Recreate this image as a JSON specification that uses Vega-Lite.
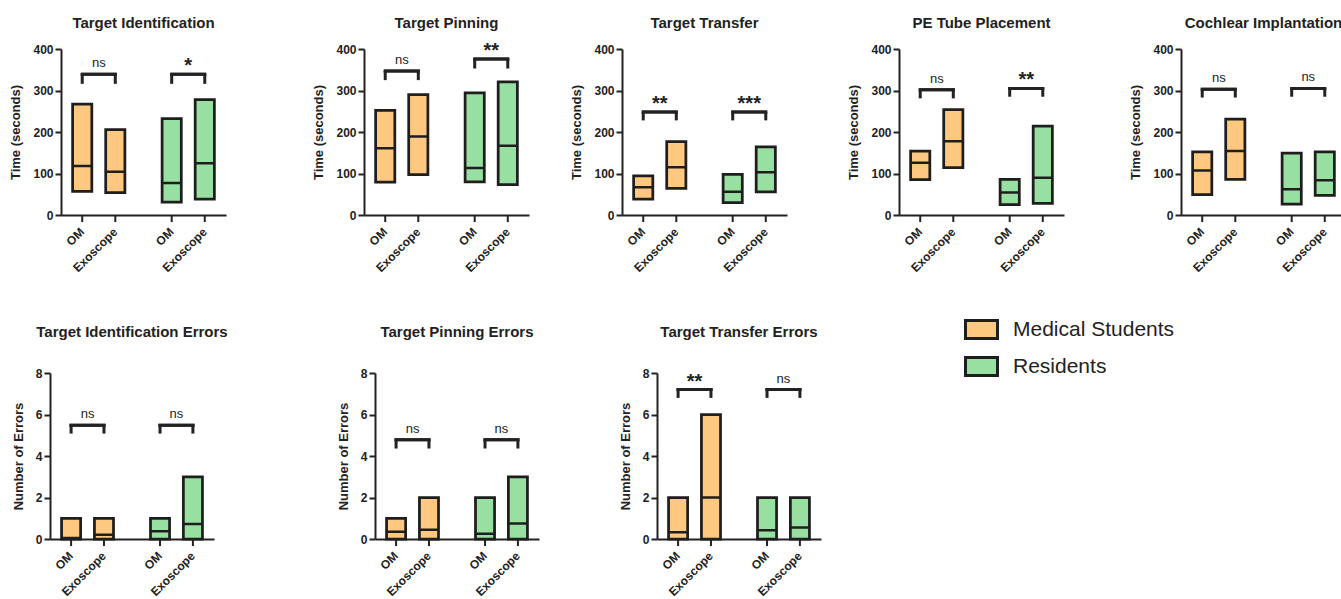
{
"$schema": "https://vega.github.io/schema/vega-lite/v6.json",
"padding": {"left": 5, "top": 15, "right": 0, "bottom": 0},
"config": {
 "view": {"stroke": null},
 "font": "Liberation Sans",
 "axis": {"domainColor": "#222", "domainWidth": 2, "tickColor": "#222", "tickWidth": 2, "tickSize": 6, "labelFont": "Liberation Sans", "labelFontWeight": "bold", "labelFontSize": 12, "labelColor": "#222", "titleFont": "Liberation Sans", "titleFontWeight": "bold", "titleFontSize": 13, "titleColor": "#222", "grid": false},
 "axisY": {"titlePadding": 10},
 "title": {"font": "Liberation Sans", "fontSize": 15, "fontWeight": "bold", "color": "#222", "anchor": "middle"},
 "legend": {"orient": "none", "legendX": 959, "legendY": 263, "padding": 0, "labelFont": "Liberation Sans", "labelFontSize": 21, "labelColor": "#222", "labelLimit": 400, "symbolType": "M-1,-0.5625H1V0.5625H-1Z", "symbolSize": 1024, "symbolStrokeColor": "#1e1e1e", "symbolStrokeWidth": 3, "symbolOpacity": 1, "rowPadding": 4, "labelOffset": 14}
},
"resolve": {"scale": {"xOffset": "independent", "x": "independent", "y": "independent"}},
"spacing": 50,
"vconcat": [
{"resolve": {"scale": {"xOffset": "independent", "x": "independent", "y": "independent"}}, "spacing": 3, "hconcat": [
 {"width": 1, "height": 1, "data": {"values": [{"a": 0}]}, "mark": {"type": "point", "opacity": 0, "size": 1}},
 {"resolve": {"scale": {"xOffset": "independent", "x": "independent", "y": "independent"}}, "spacing": 86, "hconcat": [
 {"width": 165, "height": 166, "title": {"text": "Target Identification", "offset": 12},
  "data": {"values": [
   {"group": "Medical Students", "condition": "OM", "min": 57, "median": 118, "max": 267},
   {"group": "Medical Students", "condition": "Exoscope", "min": 54, "median": 104, "max": 206},
   {"group": "Residents", "condition": "OM", "min": 31, "median": 77, "max": 232},
   {"group": "Residents", "condition": "Exoscope", "min": 38, "median": 125, "max": 278}]},
  "encoding": {"x": {"field": "group", "type": "nominal", "scale": {"domain": ["Medical Students", "Residents"], "paddingInner": 0.416, "paddingOuter": 0.13}, "axis": {"labels": false, "ticks": false, "title": null}}},
  "layer": [
   {"mark": {"type": "bar", "stroke": "#1e1e1e", "strokeWidth": 2.75}, "encoding": {"xOffset": {"field": "condition", "type": "nominal", "scale": {"domain": ["OM", "Exoscope"], "paddingInner": 0.42, "paddingOuter": 0}}, "y": {"field": "min", "type": "quantitative", "scale": {"domain": [0, 400], "nice": false}, "axis": {"values": [0, 100, 200, 300, 400], "title": "Time (seconds)"}}, "y2": {"field": "max"}, "color": {"field": "group", "type": "nominal", "scale": {"domain": ["Medical Students", "Residents"], "range": ["#FFC880", "#98E0A2"]}, "legend": {"title": null}}}},
   {"mark": {"type": "bar", "stroke": "#1e1e1e", "strokeWidth": 2.5, "fillOpacity": 0}, "encoding": {"xOffset": {"field": "condition", "type": "nominal"}, "y": {"field": "median", "type": "quantitative"}, "y2": {"field": "median"}}},
   {"mark": {"type": "rule", "stroke": "#222", "strokeWidth": 2}, "encoding": {"xOffset": {"field": "condition", "type": "nominal"}, "y": {"datum": 0}, "y2": {"datum": -17}}},
   {"mark": {"type": "text", "angle": 315, "align": "right", "baseline": "middle", "fontWeight": "bold", "fontSize": 12, "fill": "#222"}, "encoding": {"xOffset": {"field": "condition", "type": "nominal"}, "y": {"datum": -36}, "text": {"field": "condition"}}},
   {"data": {"values": [{"group": "Medical Students", "condition": "OM", "top": 339, "low": 316, "label": "ns"}, {"group": "Medical Students", "condition": "Exoscope", "top": 339, "low": 316, "label": "ns"}, {"group": "Residents", "condition": "OM", "top": 339, "low": 316, "label": "*"}, {"group": "Residents", "condition": "Exoscope", "top": 339, "low": 316, "label": "*"}]},
    "layer": [
     {"mark": {"type": "rule", "stroke": "#222", "strokeWidth": 3}, "encoding": {"xOffset": {"field": "condition", "type": "nominal"}, "y": {"field": "top", "type": "quantitative"}, "y2": {"field": "low"}}},
     {"mark": {"type": "tick", "thickness": 3, "size": 36, "color": "#222", "opacity": 1}, "encoding": {"y": {"field": "top", "type": "quantitative"}}},
     {"transform": [{"filter": "datum.condition === 'OM' && datum.label === 'ns'"}], "mark": {"type": "text", "dy": -11, "fontSize": 13, "fill": "#222"}, "encoding": {"y": {"field": "top", "type": "quantitative"}, "text": {"field": "label"}}},
     {"transform": [{"filter": "datum.condition === 'OM' && datum.label !== 'ns'"}], "mark": {"type": "text", "dy": -8, "fontSize": 20, "fontWeight": "bold", "fill": "#222"}, "encoding": {"y": {"field": "top", "type": "quantitative"}, "text": {"field": "label"}}}
    ]}
  ]},
 {"resolve": {"scale": {"xOffset": "independent", "x": "independent", "y": "independent"}}, "spacing": 41, "hconcat": [
  {"width": 165, "height": 166, "title": {"text": "Target Pinning", "offset": 10},
   "data": {"values": [
    {"group": "Medical Students", "condition": "OM", "min": 79, "median": 161, "max": 252},
    {"group": "Medical Students", "condition": "Exoscope", "min": 97, "median": 189, "max": 290},
    {"group": "Residents", "condition": "OM", "min": 80, "median": 113, "max": 294},
    {"group": "Residents", "condition": "Exoscope", "min": 73, "median": 167, "max": 321}]},
   "encoding": {"x": {"field": "group", "type": "nominal", "scale": {"domain": ["Medical Students", "Residents"], "paddingInner": 0.416, "paddingOuter": 0.13}, "axis": {"labels": false, "ticks": false, "title": null}}},
   "layer": [
    {"mark": {"type": "bar", "stroke": "#1e1e1e", "strokeWidth": 2.75}, "encoding": {"xOffset": {"field": "condition", "type": "nominal", "scale": {"domain": ["OM", "Exoscope"], "paddingInner": 0.42, "paddingOuter": 0}}, "y": {"field": "min", "type": "quantitative", "scale": {"domain": [0, 400], "nice": false}, "axis": {"values": [0, 100, 200, 300, 400], "title": "Time (seconds)"}}, "y2": {"field": "max"}, "color": {"field": "group", "type": "nominal", "scale": {"domain": ["Medical Students", "Residents"], "range": ["#FFC880", "#98E0A2"]}, "legend": {"title": null}}}},
    {"mark": {"type": "bar", "stroke": "#1e1e1e", "strokeWidth": 2.5, "fillOpacity": 0}, "encoding": {"xOffset": {"field": "condition", "type": "nominal"}, "y": {"field": "median", "type": "quantitative"}, "y2": {"field": "median"}}},
    {"mark": {"type": "rule", "stroke": "#222", "strokeWidth": 2}, "encoding": {"xOffset": {"field": "condition", "type": "nominal"}, "y": {"datum": 0}, "y2": {"datum": -17}}},
    {"mark": {"type": "text", "angle": 315, "align": "right", "baseline": "middle", "fontWeight": "bold", "fontSize": 12, "fill": "#222"}, "encoding": {"xOffset": {"field": "condition", "type": "nominal"}, "y": {"datum": -36}, "text": {"field": "condition"}}},
    {"data": {"values": [{"group": "Medical Students", "condition": "OM", "top": 347, "low": 325, "label": "ns"}, {"group": "Medical Students", "condition": "Exoscope", "top": 347, "low": 325, "label": "ns"}, {"group": "Residents", "condition": "OM", "top": 376, "low": 353, "label": "**"}, {"group": "Residents", "condition": "Exoscope", "top": 376, "low": 353, "label": "**"}]},
     "layer": [
      {"mark": {"type": "rule", "stroke": "#222", "strokeWidth": 3}, "encoding": {"xOffset": {"field": "condition", "type": "nominal"}, "y": {"field": "top", "type": "quantitative"}, "y2": {"field": "low"}}},
      {"mark": {"type": "tick", "thickness": 3, "size": 36, "color": "#222", "opacity": 1}, "encoding": {"y": {"field": "top", "type": "quantitative"}}},
      {"transform": [{"filter": "datum.condition === 'OM' && datum.label === 'ns'"}], "mark": {"type": "text", "dy": -11, "fontSize": 13, "fill": "#222"}, "encoding": {"y": {"field": "top", "type": "quantitative"}, "text": {"field": "label"}}},
      {"transform": [{"filter": "datum.condition === 'OM' && datum.label !== 'ns'"}], "mark": {"type": "text", "dy": -8, "fontSize": 20, "fontWeight": "bold", "fill": "#222"}, "encoding": {"y": {"field": "top", "type": "quantitative"}, "text": {"field": "label"}}}
     ]}
   ]},
  {"resolve": {"scale": {"xOffset": "independent", "x": "independent", "y": "independent"}}, "spacing": 60, "hconcat": [
   {"width": 165, "height": 166, "title": {"text": "Target Transfer", "offset": 12},
    "data": {"values": [
     {"group": "Medical Students", "condition": "OM", "min": 38, "median": 67, "max": 94},
     {"group": "Medical Students", "condition": "Exoscope", "min": 64, "median": 115, "max": 177},
     {"group": "Residents", "condition": "OM", "min": 30, "median": 56, "max": 98},
     {"group": "Residents", "condition": "Exoscope", "min": 56, "median": 103, "max": 164}]},
    "encoding": {"x": {"field": "group", "type": "nominal", "scale": {"domain": ["Medical Students", "Residents"], "paddingInner": 0.416, "paddingOuter": 0.13}, "axis": {"labels": false, "ticks": false, "title": null}}},
    "layer": [
     {"mark": {"type": "bar", "stroke": "#1e1e1e", "strokeWidth": 2.75}, "encoding": {"xOffset": {"field": "condition", "type": "nominal", "scale": {"domain": ["OM", "Exoscope"], "paddingInner": 0.42, "paddingOuter": 0}}, "y": {"field": "min", "type": "quantitative", "scale": {"domain": [0, 400], "nice": false}, "axis": {"values": [0, 100, 200, 300, 400], "title": "Time (seconds)"}}, "y2": {"field": "max"}, "color": {"field": "group", "type": "nominal", "scale": {"domain": ["Medical Students", "Residents"], "range": ["#FFC880", "#98E0A2"]}, "legend": {"title": null}}}},
     {"mark": {"type": "bar", "stroke": "#1e1e1e", "strokeWidth": 2.5, "fillOpacity": 0}, "encoding": {"xOffset": {"field": "condition", "type": "nominal"}, "y": {"field": "median", "type": "quantitative"}, "y2": {"field": "median"}}},
     {"mark": {"type": "rule", "stroke": "#222", "strokeWidth": 2}, "encoding": {"xOffset": {"field": "condition", "type": "nominal"}, "y": {"datum": 0}, "y2": {"datum": -17}}},
     {"mark": {"type": "text", "angle": 315, "align": "right", "baseline": "middle", "fontWeight": "bold", "fontSize": 12, "fill": "#222"}, "encoding": {"xOffset": {"field": "condition", "type": "nominal"}, "y": {"datum": -36}, "text": {"field": "condition"}}},
     {"data": {"values": [{"group": "Medical Students", "condition": "OM", "top": 248, "low": 228, "label": "**"}, {"group": "Medical Students", "condition": "Exoscope", "top": 248, "low": 228, "label": "**"}, {"group": "Residents", "condition": "OM", "top": 248, "low": 228, "label": "***"}, {"group": "Residents", "condition": "Exoscope", "top": 248, "low": 228, "label": "***"}]},
      "layer": [
       {"mark": {"type": "rule", "stroke": "#222", "strokeWidth": 3}, "encoding": {"xOffset": {"field": "condition", "type": "nominal"}, "y": {"field": "top", "type": "quantitative"}, "y2": {"field": "low"}}},
       {"mark": {"type": "tick", "thickness": 3, "size": 36, "color": "#222", "opacity": 1}, "encoding": {"y": {"field": "top", "type": "quantitative"}}},
       {"transform": [{"filter": "datum.condition === 'OM' && datum.label === 'ns'"}], "mark": {"type": "text", "dy": -11, "fontSize": 13, "fill": "#222"}, "encoding": {"y": {"field": "top", "type": "quantitative"}, "text": {"field": "label"}}},
       {"transform": [{"filter": "datum.condition === 'OM' && datum.label !== 'ns'"}], "mark": {"type": "text", "dy": -8, "fontSize": 20, "fontWeight": "bold", "fill": "#222"}, "encoding": {"y": {"field": "top", "type": "quantitative"}, "text": {"field": "label"}}}
      ]}
    ]},
   {"resolve": {"scale": {"xOffset": "independent", "x": "independent", "y": "independent"}}, "spacing": 65, "hconcat": [
    {"width": 165, "height": 166, "title": {"text": "PE Tube Placement", "offset": 12},
     "data": {"values": [
      {"group": "Medical Students", "condition": "OM", "min": 85, "median": 126, "max": 154},
      {"group": "Medical Students", "condition": "Exoscope", "min": 114, "median": 178, "max": 254},
      {"group": "Residents", "condition": "OM", "min": 25, "median": 54, "max": 86},
      {"group": "Residents", "condition": "Exoscope", "min": 28, "median": 90, "max": 214}]},
     "encoding": {"x": {"field": "group", "type": "nominal", "scale": {"domain": ["Medical Students", "Residents"], "paddingInner": 0.416, "paddingOuter": 0.13}, "axis": {"labels": false, "ticks": false, "title": null}}},
     "layer": [
      {"mark": {"type": "bar", "stroke": "#1e1e1e", "strokeWidth": 2.75}, "encoding": {"xOffset": {"field": "condition", "type": "nominal", "scale": {"domain": ["OM", "Exoscope"], "paddingInner": 0.42, "paddingOuter": 0}}, "y": {"field": "min", "type": "quantitative", "scale": {"domain": [0, 400], "nice": false}, "axis": {"values": [0, 100, 200, 300, 400], "title": "Time (seconds)"}}, "y2": {"field": "max"}, "color": {"field": "group", "type": "nominal", "scale": {"domain": ["Medical Students", "Residents"], "range": ["#FFC880", "#98E0A2"]}, "legend": {"title": null}}}},
      {"mark": {"type": "bar", "stroke": "#1e1e1e", "strokeWidth": 2.5, "fillOpacity": 0}, "encoding": {"xOffset": {"field": "condition", "type": "nominal"}, "y": {"field": "median", "type": "quantitative"}, "y2": {"field": "median"}}},
      {"mark": {"type": "rule", "stroke": "#222", "strokeWidth": 2}, "encoding": {"xOffset": {"field": "condition", "type": "nominal"}, "y": {"datum": 0}, "y2": {"datum": -17}}},
      {"mark": {"type": "text", "angle": 315, "align": "right", "baseline": "middle", "fontWeight": "bold", "fontSize": 12, "fill": "#222"}, "encoding": {"xOffset": {"field": "condition", "type": "nominal"}, "y": {"datum": -36}, "text": {"field": "condition"}}},
      {"data": {"values": [{"group": "Medical Students", "condition": "OM", "top": 302, "low": 281, "label": "ns"}, {"group": "Medical Students", "condition": "Exoscope", "top": 302, "low": 281, "label": "ns"}, {"group": "Residents", "condition": "OM", "top": 305, "low": 285, "label": "**"}, {"group": "Residents", "condition": "Exoscope", "top": 305, "low": 285, "label": "**"}]},
       "layer": [
        {"mark": {"type": "rule", "stroke": "#222", "strokeWidth": 3}, "encoding": {"xOffset": {"field": "condition", "type": "nominal"}, "y": {"field": "top", "type": "quantitative"}, "y2": {"field": "low"}}},
        {"mark": {"type": "tick", "thickness": 3, "size": 36, "color": "#222", "opacity": 1}, "encoding": {"y": {"field": "top", "type": "quantitative"}}},
        {"transform": [{"filter": "datum.condition === 'OM' && datum.label === 'ns'"}], "mark": {"type": "text", "dy": -11, "fontSize": 13, "fill": "#222"}, "encoding": {"y": {"field": "top", "type": "quantitative"}, "text": {"field": "label"}}},
        {"transform": [{"filter": "datum.condition === 'OM' && datum.label !== 'ns'"}], "mark": {"type": "text", "dy": -8, "fontSize": 20, "fontWeight": "bold", "fill": "#222"}, "encoding": {"y": {"field": "top", "type": "quantitative"}, "text": {"field": "label"}}}
       ]}
     ]},
    {"width": 165, "height": 166, "title": {"text": "Cochlear Implantation", "offset": 12},
     "data": {"values": [
      {"group": "Medical Students", "condition": "OM", "min": 49, "median": 107, "max": 152},
      {"group": "Medical Students", "condition": "Exoscope", "min": 86, "median": 154, "max": 231},
      {"group": "Residents", "condition": "OM", "min": 26, "median": 62, "max": 149},
      {"group": "Residents", "condition": "Exoscope", "min": 47, "median": 84, "max": 152}]},
     "encoding": {"x": {"field": "group", "type": "nominal", "scale": {"domain": ["Medical Students", "Residents"], "paddingInner": 0.416, "paddingOuter": 0.13}, "axis": {"labels": false, "ticks": false, "title": null}}},
     "layer": [
      {"mark": {"type": "bar", "stroke": "#1e1e1e", "strokeWidth": 2.75}, "encoding": {"xOffset": {"field": "condition", "type": "nominal", "scale": {"domain": ["OM", "Exoscope"], "paddingInner": 0.42, "paddingOuter": 0}}, "y": {"field": "min", "type": "quantitative", "scale": {"domain": [0, 400], "nice": false}, "axis": {"values": [0, 100, 200, 300, 400], "title": "Time (seconds)"}}, "y2": {"field": "max"}, "color": {"field": "group", "type": "nominal", "scale": {"domain": ["Medical Students", "Residents"], "range": ["#FFC880", "#98E0A2"]}, "legend": {"title": null}}}},
      {"mark": {"type": "bar", "stroke": "#1e1e1e", "strokeWidth": 2.5, "fillOpacity": 0}, "encoding": {"xOffset": {"field": "condition", "type": "nominal"}, "y": {"field": "median", "type": "quantitative"}, "y2": {"field": "median"}}},
      {"mark": {"type": "rule", "stroke": "#222", "strokeWidth": 2}, "encoding": {"xOffset": {"field": "condition", "type": "nominal"}, "y": {"datum": 0}, "y2": {"datum": -17}}},
      {"mark": {"type": "text", "angle": 315, "align": "right", "baseline": "middle", "fontWeight": "bold", "fontSize": 12, "fill": "#222"}, "encoding": {"xOffset": {"field": "condition", "type": "nominal"}, "y": {"datum": -36}, "text": {"field": "condition"}}},
      {"data": {"values": [{"group": "Medical Students", "condition": "OM", "top": 303, "low": 283, "label": "ns"}, {"group": "Medical Students", "condition": "Exoscope", "top": 303, "low": 283, "label": "ns"}, {"group": "Residents", "condition": "OM", "top": 305, "low": 285, "label": "ns"}, {"group": "Residents", "condition": "Exoscope", "top": 305, "low": 285, "label": "ns"}]},
       "layer": [
        {"mark": {"type": "rule", "stroke": "#222", "strokeWidth": 3}, "encoding": {"xOffset": {"field": "condition", "type": "nominal"}, "y": {"field": "top", "type": "quantitative"}, "y2": {"field": "low"}}},
        {"mark": {"type": "tick", "thickness": 3, "size": 36, "color": "#222", "opacity": 1}, "encoding": {"y": {"field": "top", "type": "quantitative"}}},
        {"transform": [{"filter": "datum.condition === 'OM' && datum.label === 'ns'"}], "mark": {"type": "text", "dy": -11, "fontSize": 13, "fill": "#222"}, "encoding": {"y": {"field": "top", "type": "quantitative"}, "text": {"field": "label"}}},
        {"transform": [{"filter": "datum.condition === 'OM' && datum.label !== 'ns'"}], "mark": {"type": "text", "dy": -8, "fontSize": 20, "fontWeight": "bold", "fill": "#222"}, "encoding": {"y": {"field": "top", "type": "quantitative"}, "text": {"field": "label"}}}
       ]}
     ]}
   ]}
  ]}
 ]}
 ]}
]},
{"resolve": {"scale": {"xOffset": "independent", "x": "independent", "y": "independent"}}, "spacing": 6, "hconcat": [
 {"width": 1, "height": 1, "data": {"values": [{"a": 0}]}, "mark": {"type": "point", "opacity": 0, "size": 1}},
 {"resolve": {"scale": {"xOffset": "independent", "x": "independent", "y": "independent"}}, "spacing": 109, "hconcat": [
 {"width": 164, "height": 166, "title": {"text": "Target Identification Errors", "offset": 27},
  "data": {"values": [
   {"group": "Medical Students", "condition": "OM", "min": 0, "median": 0.05, "max": 1},
   {"group": "Medical Students", "condition": "Exoscope", "min": 0, "median": 0.2, "max": 1},
   {"group": "Residents", "condition": "OM", "min": 0, "median": 0.37, "max": 1},
   {"group": "Residents", "condition": "Exoscope", "min": 0, "median": 0.72, "max": 3}]},
  "encoding": {"x": {"field": "group", "type": "nominal", "scale": {"domain": ["Medical Students", "Residents"], "paddingInner": 0.416, "paddingOuter": 0.13}, "axis": {"labels": false, "ticks": false, "title": null}}},
  "layer": [
   {"mark": {"type": "bar", "stroke": "#1e1e1e", "strokeWidth": 2.75}, "encoding": {"xOffset": {"field": "condition", "type": "nominal", "scale": {"domain": ["OM", "Exoscope"], "paddingInner": 0.42, "paddingOuter": 0}}, "y": {"field": "min", "type": "quantitative", "scale": {"domain": [0, 8], "nice": false}, "axis": {"values": [0, 2, 4, 6, 8], "title": "Number of Errors"}}, "y2": {"field": "max"}, "color": {"field": "group", "type": "nominal", "scale": {"domain": ["Medical Students", "Residents"], "range": ["#FFC880", "#98E0A2"]}, "legend": {"title": null}}}},
   {"mark": {"type": "bar", "stroke": "#1e1e1e", "strokeWidth": 2.5, "fillOpacity": 0}, "encoding": {"xOffset": {"field": "condition", "type": "nominal"}, "y": {"field": "median", "type": "quantitative"}, "y2": {"field": "median"}}},
   {"mark": {"type": "rule", "stroke": "#222", "strokeWidth": 2}, "encoding": {"xOffset": {"field": "condition", "type": "nominal"}, "y": {"datum": 0}, "y2": {"datum": -0.34}}},
   {"mark": {"type": "text", "angle": 315, "align": "right", "baseline": "middle", "fontWeight": "bold", "fontSize": 12, "fill": "#222"}, "encoding": {"xOffset": {"field": "condition", "type": "nominal"}, "y": {"datum": -0.72}, "text": {"field": "condition"}}},
   {"data": {"values": [{"group": "Medical Students", "condition": "OM", "top": 5.48, "low": 5.08, "label": "ns"}, {"group": "Medical Students", "condition": "Exoscope", "top": 5.48, "low": 5.08, "label": "ns"}, {"group": "Residents", "condition": "OM", "top": 5.48, "low": 5.08, "label": "ns"}, {"group": "Residents", "condition": "Exoscope", "top": 5.48, "low": 5.08, "label": "ns"}]},
    "layer": [
     {"mark": {"type": "rule", "stroke": "#222", "strokeWidth": 3}, "encoding": {"xOffset": {"field": "condition", "type": "nominal"}, "y": {"field": "top", "type": "quantitative"}, "y2": {"field": "low"}}},
     {"mark": {"type": "tick", "thickness": 3, "size": 36, "color": "#222", "opacity": 1}, "encoding": {"y": {"field": "top", "type": "quantitative"}}},
     {"transform": [{"filter": "datum.condition === 'OM' && datum.label === 'ns'"}], "mark": {"type": "text", "dy": -11, "fontSize": 13, "fill": "#222"}, "encoding": {"y": {"field": "top", "type": "quantitative"}, "text": {"field": "label"}}},
     {"transform": [{"filter": "datum.condition === 'OM' && datum.label !== 'ns'"}], "mark": {"type": "text", "dy": -8, "fontSize": 20, "fontWeight": "bold", "fill": "#222"}, "encoding": {"y": {"field": "top", "type": "quantitative"}, "text": {"field": "label"}}}
    ]}
  ]},
 {"resolve": {"scale": {"xOffset": "independent", "x": "independent", "y": "independent"}}, "spacing": 80, "hconcat": [
  {"width": 164, "height": 166, "title": {"text": "Target Pinning Errors", "offset": 27},
   "data": {"values": [
    {"group": "Medical Students", "condition": "OM", "min": 0, "median": 0.35, "max": 1},
    {"group": "Medical Students", "condition": "Exoscope", "min": 0, "median": 0.45, "max": 2},
    {"group": "Residents", "condition": "OM", "min": 0, "median": 0.25, "max": 2},
    {"group": "Residents", "condition": "Exoscope", "min": 0, "median": 0.75, "max": 3}]},
   "encoding": {"x": {"field": "group", "type": "nominal", "scale": {"domain": ["Medical Students", "Residents"], "paddingInner": 0.416, "paddingOuter": 0.13}, "axis": {"labels": false, "ticks": false, "title": null}}},
   "layer": [
    {"mark": {"type": "bar", "stroke": "#1e1e1e", "strokeWidth": 2.75}, "encoding": {"xOffset": {"field": "condition", "type": "nominal", "scale": {"domain": ["OM", "Exoscope"], "paddingInner": 0.42, "paddingOuter": 0}}, "y": {"field": "min", "type": "quantitative", "scale": {"domain": [0, 8], "nice": false}, "axis": {"values": [0, 2, 4, 6, 8], "title": "Number of Errors"}}, "y2": {"field": "max"}, "color": {"field": "group", "type": "nominal", "scale": {"domain": ["Medical Students", "Residents"], "range": ["#FFC880", "#98E0A2"]}, "legend": {"title": null}}}},
    {"mark": {"type": "bar", "stroke": "#1e1e1e", "strokeWidth": 2.5, "fillOpacity": 0}, "encoding": {"xOffset": {"field": "condition", "type": "nominal"}, "y": {"field": "median", "type": "quantitative"}, "y2": {"field": "median"}}},
    {"mark": {"type": "rule", "stroke": "#222", "strokeWidth": 2}, "encoding": {"xOffset": {"field": "condition", "type": "nominal"}, "y": {"datum": 0}, "y2": {"datum": -0.34}}},
    {"mark": {"type": "text", "angle": 315, "align": "right", "baseline": "middle", "fontWeight": "bold", "fontSize": 12, "fill": "#222"}, "encoding": {"xOffset": {"field": "condition", "type": "nominal"}, "y": {"datum": -0.72}, "text": {"field": "condition"}}},
    {"data": {"values": [{"group": "Medical Students", "condition": "OM", "top": 4.78, "low": 4.36, "label": "ns"}, {"group": "Medical Students", "condition": "Exoscope", "top": 4.78, "low": 4.36, "label": "ns"}, {"group": "Residents", "condition": "OM", "top": 4.78, "low": 4.36, "label": "ns"}, {"group": "Residents", "condition": "Exoscope", "top": 4.78, "low": 4.36, "label": "ns"}]},
     "layer": [
      {"mark": {"type": "rule", "stroke": "#222", "strokeWidth": 3}, "encoding": {"xOffset": {"field": "condition", "type": "nominal"}, "y": {"field": "top", "type": "quantitative"}, "y2": {"field": "low"}}},
      {"mark": {"type": "tick", "thickness": 3, "size": 36, "color": "#222", "opacity": 1}, "encoding": {"y": {"field": "top", "type": "quantitative"}}},
      {"transform": [{"filter": "datum.condition === 'OM' && datum.label === 'ns'"}], "mark": {"type": "text", "dy": -11, "fontSize": 13, "fill": "#222"}, "encoding": {"y": {"field": "top", "type": "quantitative"}, "text": {"field": "label"}}},
      {"transform": [{"filter": "datum.condition === 'OM' && datum.label !== 'ns'"}], "mark": {"type": "text", "dy": -8, "fontSize": 20, "fontWeight": "bold", "fill": "#222"}, "encoding": {"y": {"field": "top", "type": "quantitative"}, "text": {"field": "label"}}}
     ]}
   ]},
  {"width": 164, "height": 166, "title": {"text": "Target Transfer Errors", "offset": 27},
   "data": {"values": [
    {"group": "Medical Students", "condition": "OM", "min": 0, "median": 0.33, "max": 2},
    {"group": "Medical Students", "condition": "Exoscope", "min": 0, "median": 2, "max": 6},
    {"group": "Residents", "condition": "OM", "min": 0, "median": 0.42, "max": 2},
    {"group": "Residents", "condition": "Exoscope", "min": 0, "median": 0.55, "max": 2}]},
   "encoding": {"x": {"field": "group", "type": "nominal", "scale": {"domain": ["Medical Students", "Residents"], "paddingInner": 0.416, "paddingOuter": 0.13}, "axis": {"labels": false, "ticks": false, "title": null}}},
   "layer": [
    {"mark": {"type": "bar", "stroke": "#1e1e1e", "strokeWidth": 2.75}, "encoding": {"xOffset": {"field": "condition", "type": "nominal", "scale": {"domain": ["OM", "Exoscope"], "paddingInner": 0.42, "paddingOuter": 0}}, "y": {"field": "min", "type": "quantitative", "scale": {"domain": [0, 8], "nice": false}, "axis": {"values": [0, 2, 4, 6, 8], "title": "Number of Errors"}}, "y2": {"field": "max"}, "color": {"field": "group", "type": "nominal", "scale": {"domain": ["Medical Students", "Residents"], "range": ["#FFC880", "#98E0A2"]}, "legend": {"title": null}}}},
    {"mark": {"type": "bar", "stroke": "#1e1e1e", "strokeWidth": 2.5, "fillOpacity": 0}, "encoding": {"xOffset": {"field": "condition", "type": "nominal"}, "y": {"field": "median", "type": "quantitative"}, "y2": {"field": "median"}}},
    {"mark": {"type": "rule", "stroke": "#222", "strokeWidth": 2}, "encoding": {"xOffset": {"field": "condition", "type": "nominal"}, "y": {"datum": 0}, "y2": {"datum": -0.34}}},
    {"mark": {"type": "text", "angle": 315, "align": "right", "baseline": "middle", "fontWeight": "bold", "fontSize": 12, "fill": "#222"}, "encoding": {"xOffset": {"field": "condition", "type": "nominal"}, "y": {"datum": -0.72}, "text": {"field": "condition"}}},
    {"data": {"values": [{"group": "Medical Students", "condition": "OM", "top": 7.2, "low": 6.8, "label": "**"}, {"group": "Medical Students", "condition": "Exoscope", "top": 7.2, "low": 6.8, "label": "**"}, {"group": "Residents", "condition": "OM", "top": 7.2, "low": 6.8, "label": "ns"}, {"group": "Residents", "condition": "Exoscope", "top": 7.2, "low": 6.8, "label": "ns"}]},
     "layer": [
      {"mark": {"type": "rule", "stroke": "#222", "strokeWidth": 3}, "encoding": {"xOffset": {"field": "condition", "type": "nominal"}, "y": {"field": "top", "type": "quantitative"}, "y2": {"field": "low"}}},
      {"mark": {"type": "tick", "thickness": 3, "size": 36, "color": "#222", "opacity": 1}, "encoding": {"y": {"field": "top", "type": "quantitative"}}},
      {"transform": [{"filter": "datum.condition === 'OM' && datum.label === 'ns'"}], "mark": {"type": "text", "dy": -11, "fontSize": 13, "fill": "#222"}, "encoding": {"y": {"field": "top", "type": "quantitative"}, "text": {"field": "label"}}},
      {"transform": [{"filter": "datum.condition === 'OM' && datum.label !== 'ns'"}], "mark": {"type": "text", "dy": -8, "fontSize": 20, "fontWeight": "bold", "fill": "#222"}, "encoding": {"y": {"field": "top", "type": "quantitative"}, "text": {"field": "label"}}}
     ]}
   ]}
 ]}
 ]}
]}
]
}
